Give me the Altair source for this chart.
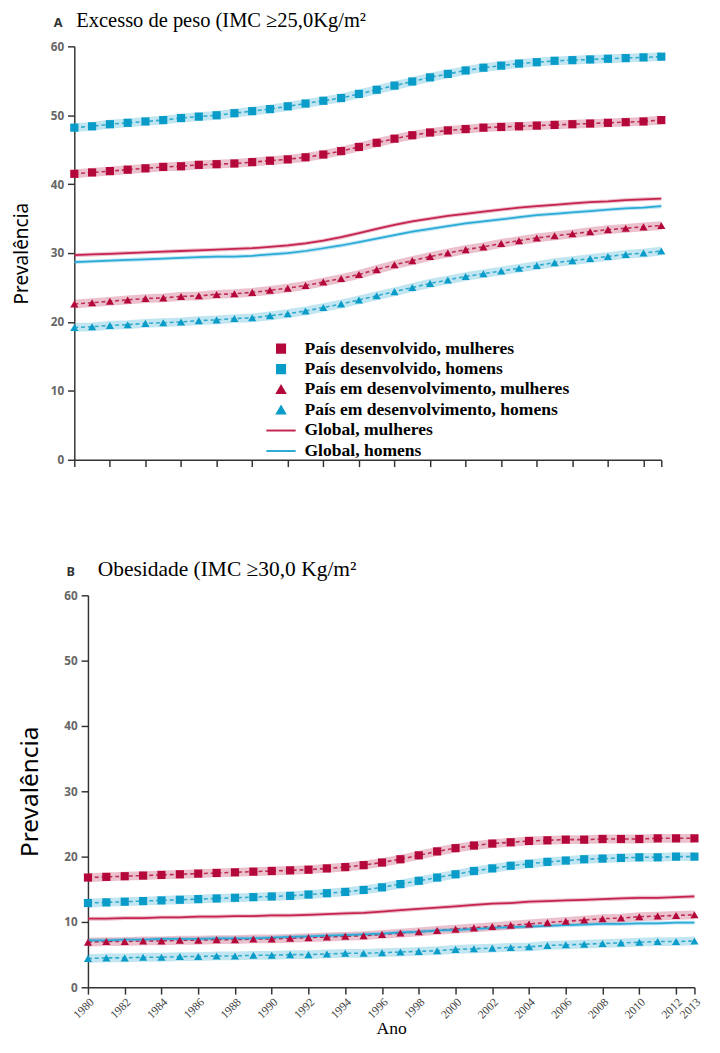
import altair as alt
import pandas as pd

years = list(range(1980, 2014))
series = [
    "País desenvolvido, mulheres",
    "País desenvolvido, homens",
    "País em desenvolvimento, mulheres",
    "País em desenvolvimento, homens",
    "Global, mulheres",
    "Global, homens",
]
colors = ["#B4083A", "#0A9CC8", "#B4083A", "#0A9CC8", "#C4244E", "#2AAAD6"]
shapes = ["square", "square", "triangle-up", "triangle-up", "stroke", "stroke"]

# Panel A: Excesso de peso
a_dev_w = [41.5, 41.7, 41.9, 42.1, 42.3, 42.5, 42.6, 42.8, 42.9, 43.0, 43.2, 43.4, 43.6, 43.9, 44.3, 44.8, 45.4,
           46.0, 46.6, 47.1, 47.5, 47.8, 48.0, 48.2, 48.3, 48.4, 48.5, 48.6, 48.7, 48.8, 48.9, 49.0, 49.1, 49.3]
a_dev_m = [48.2, 48.4, 48.7, 48.9, 49.1, 49.3, 49.6, 49.8, 50.0, 50.3, 50.6, 50.9, 51.3, 51.7, 52.1, 52.5, 53.1,
           53.7, 54.3, 54.9, 55.5, 56.0, 56.5, 56.9, 57.2, 57.5, 57.7, 57.9, 58.0, 58.1, 58.2, 58.3, 58.4, 58.5]
a_devg_w = [22.6, 22.8, 23.0, 23.2, 23.4, 23.5, 23.7, 23.8, 24.0, 24.1, 24.3, 24.6, 24.9, 25.3, 25.8, 26.3, 26.9,
            27.6, 28.3, 28.9, 29.5, 30.0, 30.5, 30.9, 31.4, 31.8, 32.2, 32.5, 32.8, 33.1, 33.4, 33.6, 33.8, 34.0]
a_devg_m = [19.2, 19.3, 19.5, 19.6, 19.8, 19.9, 20.0, 20.2, 20.3, 20.5, 20.6, 20.9, 21.2, 21.6, 22.1, 22.6, 23.2,
            23.8, 24.4, 25.0, 25.6, 26.1, 26.6, 27.0, 27.4, 27.8, 28.2, 28.6, 28.9, 29.2, 29.5, 29.8, 30.0, 30.3]
a_glob_w = [29.7, 29.8, 29.9, 30.0, 30.1, 30.2, 30.3, 30.4, 30.5, 30.6, 30.7, 30.9, 31.1, 31.4, 31.8, 32.3, 32.9,
            33.5, 34.1, 34.6, 35.0, 35.4, 35.7, 36.0, 36.3, 36.6, 36.8, 37.0, 37.2, 37.4, 37.5, 37.7, 37.8, 37.9]
a_glob_m = [28.7, 28.8, 28.9, 29.0, 29.1, 29.2, 29.3, 29.4, 29.5, 29.5, 29.6, 29.8, 30.0, 30.3, 30.7, 31.1, 31.6,
            32.1, 32.6, 33.1, 33.5, 33.9, 34.3, 34.6, 34.9, 35.2, 35.5, 35.7, 35.9, 36.1, 36.3, 36.5, 36.6, 36.8]

# Panel B: Obesidade
b_dev_w = [16.8, 16.9, 17.0, 17.1, 17.2, 17.3, 17.4, 17.5, 17.6, 17.7, 17.8, 17.9, 18.0, 18.2, 18.4, 18.7, 19.1,
           19.6, 20.2, 20.8, 21.3, 21.7, 22.0, 22.2, 22.4, 22.5, 22.6, 22.6, 22.7, 22.7, 22.7, 22.8, 22.8, 22.8]
b_dev_m = [12.9, 13.0, 13.1, 13.2, 13.3, 13.4, 13.5, 13.6, 13.7, 13.8, 13.9, 14.0, 14.2, 14.4, 14.6, 14.9, 15.3,
           15.8, 16.3, 16.8, 17.3, 17.8, 18.2, 18.6, 18.9, 19.2, 19.4, 19.6, 19.7, 19.8, 19.9, 19.9, 20.0, 20.0]
b_devg_w = [6.9, 7.0, 7.0, 7.1, 7.1, 7.2, 7.2, 7.3, 7.3, 7.4, 7.4, 7.5, 7.6, 7.7, 7.8, 7.9, 8.1,
            8.3, 8.5, 8.7, 8.9, 9.1, 9.3, 9.5, 9.7, 9.9, 10.1, 10.3, 10.5, 10.6, 10.8, 10.9, 11.0, 11.1]
b_devg_m = [4.4, 4.5, 4.5, 4.6, 4.6, 4.7, 4.7, 4.8, 4.8, 4.9, 4.9, 5.0, 5.0, 5.1, 5.2, 5.2, 5.3,
            5.4, 5.5, 5.6, 5.8, 5.9, 6.0, 6.1, 6.2, 6.4, 6.5, 6.6, 6.7, 6.8, 6.9, 7.0, 7.0, 7.1]
b_glob_w = [10.5, 10.5, 10.6, 10.6, 10.7, 10.7, 10.8, 10.8, 10.9, 10.9, 11.0, 11.0, 11.1, 11.2, 11.3, 11.4, 11.6,
            11.8, 12.0, 12.2, 12.4, 12.6, 12.8, 12.9, 13.1, 13.2, 13.3, 13.4, 13.5, 13.6, 13.7, 13.7, 13.8, 13.9]
b_glob_m = [7.2, 7.2, 7.3, 7.3, 7.4, 7.4, 7.4, 7.5, 7.5, 7.5, 7.6, 7.7, 7.8, 7.9, 8.0, 8.1, 8.2,
            8.4, 8.5, 8.7, 8.8, 8.9, 9.1, 9.2, 9.3, 9.4, 9.5, 9.6, 9.7, 9.7, 9.8, 9.8, 9.9, 9.9]

x_ticks = list(range(1980, 2013, 2)) + [2013]
y_ticks = [0, 10, 20, 30, 40, 50, 60]


def long_df(cols):
    rows = []
    for name, vals in zip(series, cols):
        for yr, v in zip(years, vals):
            rows.append({"year": yr, "value": v, "serie": name,
                         "kind": "global" if name.startswith("Global") else "marker"})
    return pd.DataFrame(rows)


df_a = long_df([a_dev_w, a_dev_m, a_devg_w, a_devg_m, a_glob_w, a_glob_m])
df_b = long_df([b_dev_w, b_dev_m, b_devg_w, b_devg_m, b_glob_w, b_glob_m])


def make_panel(df, w, h, shift, letter, title, show_legend, show_xlabels, ytitle_size,
               ytitle_pad, letter_x, title_x, title_size):
    xaxis = alt.Axis(values=x_ticks, labels=show_xlabels, format="d", labelAngle=-45,
                     labelFont="Liberation Serif", labelFontSize=12, labelColor="#444",
                     labelPadding=2, labelOverlap=False,
                     title="Ano" if show_xlabels else None, titleFont="Liberation Serif",
                     titleFontSize=18, titleFontWeight="normal", titleColor="#000",
                     titlePadding=0,
                     grid=False, tickSize=7, tickColor="#333", domainColor="#333",
                     domainWidth=1.5, tickWidth=1.5)
    yaxis = alt.Axis(values=y_ticks, title="Prevalência", titleFont="Noto Sans",
                     titleFontSize=ytitle_size, titleFontWeight="normal", titleColor="#000",
                     titlePadding=ytitle_pad, offset=shift,
                     labelFont="Noto Sans", labelFontSize=12, labelFontWeight="bold",
                     labelColor="#666", grid=False, tickSize=7, tickColor="#333",
                     domainColor="#333", domainWidth=1.5, tickWidth=1.5, labelPadding=4)
    x = alt.X("year:Q", scale=alt.Scale(domain=[1980, 2013], nice=False, zero=False,
                                        range=[-shift, w]), axis=xaxis)
    y = alt.Y("value:Q", scale=alt.Scale(domain=[0, 60], nice=False), axis=yaxis)

    if show_legend:
        leg = alt.Legend(title=None, orient="none", legendX=189, legendY=301,
                         labelFont="Liberation Serif", labelFontSize=18,
                         labelFontWeight="bold", labelColor="#000", labelOffset=15,
                         rowPadding=3, symbolStrokeWidth=2,
                         symbolSize=alt.ExprRef("test(/^Global/, datum.value) ? 900 : 70"),
                         symbolOpacity=1, labelLimit=400)
    else:
        leg = None
    col = alt.Color("serie:N", scale=alt.Scale(domain=series, range=colors), legend=leg)
    shp = alt.Shape("serie:N", scale=alt.Scale(domain=series, range=shapes), legend=leg)

    base = alt.Chart(df)
    band = base.transform_filter(alt.datum.kind == "marker").mark_line(
        strokeWidth=9, opacity=0.25).encode(x=x, y=y, color=col)
    halo = base.transform_filter(alt.datum.kind == "global").mark_line(
        strokeWidth=4, opacity=0.3).encode(x=x, y=y, color=col)
    dash = base.transform_filter(alt.datum.kind == "marker").mark_line(
        strokeWidth=1.6, strokeDash=[4, 3], opacity=0.8).encode(x=x, y=y, color=col)
    solid = base.transform_filter(alt.datum.kind == "global").mark_line(
        strokeWidth=1.8).encode(x=x, y=y, color=col)
    pts = base.transform_filter(alt.datum.kind == "marker").mark_point(
        filled=True, opacity=1, size=70).encode(x=x, y=y, color=col, shape=shp)

    text_df = pd.DataFrame({"t": [letter]})
    letter_mark = alt.Chart(text_df).mark_text(
        font="Noto Sans", fontWeight="bold", fontSize=13, color="#333", align="left",
        baseline="alphabetic").encode(text="t:N", x=alt.value(letter_x), y=alt.value(-20))
    title_mark = alt.Chart(pd.DataFrame({"t": [title]})).mark_text(
        font="Liberation Serif", fontSize=title_size, color="#000", align="left",
        baseline="alphabetic").encode(text="t:N", x=alt.value(title_x), y=alt.value(-20))
    # invisible anchor that fixes the panel's left extent
    spacer = alt.Chart(text_df).mark_text(opacity=0, fontSize=10, align="left").encode(
        text=alt.value("."), x=alt.value(-82), y=alt.value(200))

    return alt.layer(band, halo, dash, solid, pts, letter_mark, title_mark, spacer).properties(
        width=w, height=h
    )


panel_a = make_panel(df_a, 588, 424, 14, "A", "Excesso de peso (IMC ≥25,0Kg/m²", True, False, 19.5,
                     19, -35, -12, 21)
panel_b = make_panel(df_b, 622, 402, 0, "B", "Obesidade (IMC ≥30,0 Kg/m²", False, True, 25,
                     22, -22, 10, 22)

chart = alt.concat(panel_a, panel_b, columns=1, align="none", spacing=93).resolve_scale(
    color="independent", shape="independent"
).resolve_legend(color="independent", shape="independent").properties(
    padding={"left": 0, "top": -11, "right": 0, "bottom": 0}
).configure_view(stroke=None).configure_legend(labelFont="Liberation Serif")

chart.save("out.html", embed_options={"renderer": "svg", "actions": False})
